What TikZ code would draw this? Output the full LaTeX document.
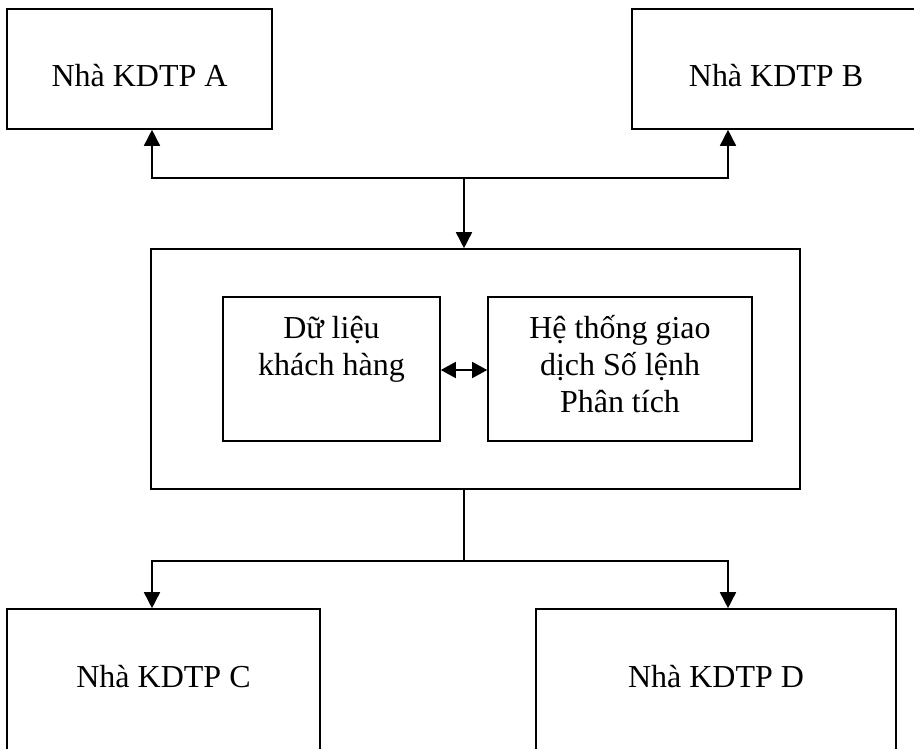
\documentclass[tikz,border=0pt]{standalone}
\usepackage{fontspec}
\setmainfont{Liberation Serif}
\usetikzlibrary{arrows.meta}
\begin{document}
\begin{tikzpicture}[x=1pt,y=-1pt,
  box/.style={draw,line width=1.6pt,minimum width=#1,inner sep=0pt},
  lbl/.style={font=\fontsize{32}{37}\selectfont,align=center,inner sep=0pt,anchor=base},
  conn/.style={line width=1.6pt},
  arr/.style={line width=1.6pt,-{Triangle[length=16pt,width=16pt]}},
  darr/.style={line width=1.6pt,{Triangle[length=15pt,width=16pt]}-{Triangle[length=15pt,width=16pt]}}]
\useasboundingbox (0,0) rectangle (914,749);
\clip (0,0) rectangle (914,749);
% boxes
\node[box=265pt,minimum height=120pt] (A) at (139.5,69) {};
\node[box=288pt,minimum height=120pt] (B) at (776,69) {};
\node[box=649pt,minimum height=240pt] (M) at (475.5,369) {};
\node[box=217pt,minimum height=144pt] (L) at (331.5,369) {};
\node[box=264pt,minimum height=144pt] (R) at (620,369) {};
\node[box=313pt,minimum height=161pt] (C) at (163.5,689.5) {};
\node[box=360pt,minimum height=161pt] (D) at (716,689.5) {};
% texts
\node[lbl] (tA) at (139.5,87) {Nhà KDTP A};
\node[lbl] (tB) at (776,87) {Nhà KDTP B};
\node[lbl] (tC) at (163.5,687) {Nhà KDTP C};
\node[lbl] (tD) at (716,687) {Nhà KDTP D};
\node[lbl] (tL) at (331.5,375) {Dữ liệu\\khách hàng};
\node[lbl] (tR) at (620,412) {Hệ thống giao\\dịch Số lệnh\\Phân tích};
% connectors
\coordinate (jt) at (464,178);
\coordinate (jb) at (464,561);
\draw[arr] (jt) -| ([xshift=12.5pt]A.south);
\draw[arr] (jt) -| ([xshift=-48pt]B.south);
\draw[arr] (jt) -- (jt |- M.north);
\draw[darr] (L.east |- 0,370) -- (R.west |- 0,370);
\draw[conn] (jb |- M.south) -- (jb);
\draw[arr] (jb) -| ([xshift=-11.5pt]C.north);
\draw[arr] (jb) -| ([xshift=12pt]D.north);
\end{tikzpicture}
\end{document}
